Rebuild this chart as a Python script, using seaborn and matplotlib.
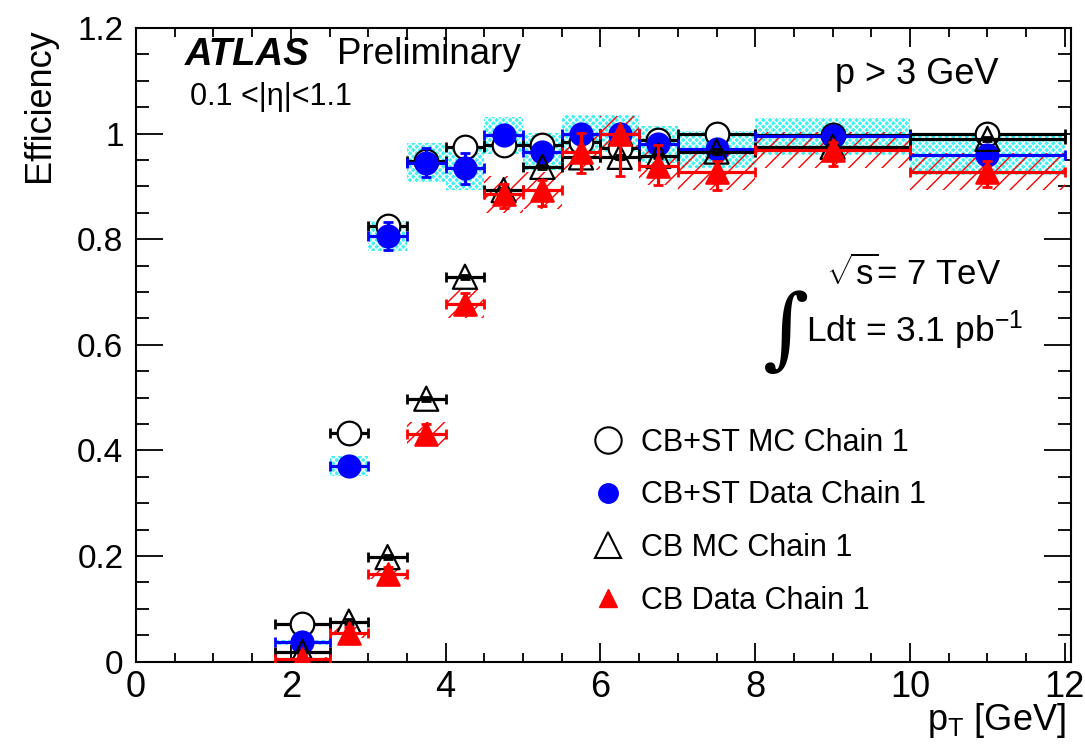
import numpy as np
import pandas as pd
import matplotlib
matplotlib.use("Agg")
import matplotlib.pyplot as plt
import seaborn as sns
from matplotlib.lines import Line2D
from matplotlib.ticker import MultipleLocator, FuncFormatter

# ---------------- data ----------------
pt = np.array([2.15, 2.75, 3.25, 3.75, 4.25, 4.75, 5.25, 5.75, 6.25, 6.75, 7.5, 9.0, 11.0])
pt_lo = np.array([1.8, 2.5, 3.0, 3.5, 4.0, 4.5, 5.0, 5.5, 6.0, 6.5, 7.0, 8.0, 10.0])
pt_hi = np.array([2.5, 3.0, 3.5, 4.0, 4.5, 5.0, 5.5, 6.0, 6.5, 7.0, 8.0, 10.0, 12.0])

eff_cbst_mc = np.array([0.071, 0.434, 0.825, 0.948, 0.975, 0.978, 0.978, 0.984, 0.972, 0.988, 1.000, 0.997, 1.000])
eff_cbst_data = np.array([0.037, 0.370, 0.806, 0.945, 0.934, 0.997, 0.966, 1.000, 1.000, 0.980, 0.970, 0.995, 0.959])
eff_cb_mc = np.array([0.018, 0.076, 0.198, 0.498, 0.729, 0.893, 0.937, 0.955, 0.956, 0.958, 0.966, 0.975, 0.990])
eff_cb_data = np.array([0.005, 0.055, 0.167, 0.432, 0.678, 0.885, 0.893, 0.966, 0.999, 0.938, 0.928, 0.969, 0.928])

stat_cbst_mc = np.array([0.004] * 13)
stat_cb_mc = np.array([0.004] * 13)
stat_cbst_data_lo = np.array([0.005, 0.010, 0.027, 0.028, 0.030, 0.015, 0.015, 0.010, 0.008, 0.012, 0.012, 0.008, 0.015])
stat_cbst_data_hi = np.array([0.005, 0.010, 0.027, 0.028, 0.030, 0.003, 0.012, 0.002, 0.002, 0.010, 0.010, 0.005, 0.015])
stat_cb_data_lo = np.array([0.005, 0.010, 0.012, 0.018, 0.020, 0.025, 0.030, 0.040, 0.080, 0.035, 0.035, 0.030, 0.030])
stat_cb_data_hi = np.array([0.005, 0.010, 0.012, 0.018, 0.020, 0.020, 0.020, 0.035, 0.003, 0.040, 0.020, 0.015, 0.020])

syst_cbst_data = np.array([0.005, 0.019, 0.028, 0.037, 0.040, 0.035, 0.035, 0.035, 0.035, 0.035, 0.035, 0.035, 0.038])
syst_cb_data = np.array([0.003, 0.010, 0.011, 0.022, 0.027, 0.035, 0.035, 0.035, 0.035, 0.035, 0.035, 0.035, 0.035])

labels = ["CB+ST MC Chain 1", "CB+ST Data Chain 1", "CB MC Chain 1", "CB Data Chain 1"]

# ---------------- style ----------------
sns.set_theme(style="ticks")
plt.rcParams["font.family"] = ["Liberation Sans", "DejaVu Sans"]
plt.rcParams["mathtext.fontset"] = "custom"
plt.rcParams["mathtext.rm"] = "Liberation Sans"
plt.rcParams["mathtext.it"] = "Liberation Sans:italic"
plt.rcParams["mathtext.bf"] = "Liberation Sans:bold"
plt.rcParams["hatch.linewidth"] = 1.0
plt.rcParams["axes.unicode_minus"] = False
for k in ["text.color", "axes.labelcolor", "xtick.color", "ytick.color", "axes.edgecolor"]:
    plt.rcParams[k] = "black"

W, H = 1085, 746
fig = plt.figure(figsize=(W / 100, H / 100), dpi=100)
fig.patch.set_facecolor("white")
ax = fig.add_axes([136 / W, 1 - 661.7 / H, (1071 - 136) / W, (661.7 - 28) / H])
ax.set_facecolor("white")

# ---------------- systematic bands ----------------
ax.bar(pt_lo, 2 * syst_cbst_data, bottom=eff_cbst_data - syst_cbst_data,
       width=pt_hi - pt_lo, align="edge", facecolor="#3ff2f2", edgecolor="white",
       hatch="xxxxx", linewidth=0, zorder=1)
ax.bar(pt_lo, 2 * syst_cb_data, bottom=eff_cb_data - syst_cb_data,
       width=pt_hi - pt_lo, align="edge", facecolor="none", edgecolor="#ff0000",
       hatch="//", linewidth=0, zorder=2)

# ---------------- points with error bars ----------------
series = [
    (eff_cbst_mc, stat_cbst_mc, stat_cbst_mc, "black", "o", "white", 290, 3),
    (eff_cbst_data, stat_cbst_data_lo, stat_cbst_data_hi, "#0000ff", "o", "#0000ff", 250, 4),
    (eff_cb_mc, stat_cb_mc, stat_cb_mc, "black", "^", "none", 300, 5),
    (eff_cb_data, stat_cb_data_lo, stat_cb_data_hi, "#ff0000", "^", "#ff0000", 260, 6),
]
for eff, elo, ehi, col, mk, face, size, z in series:
    ax.errorbar(pt, eff, xerr=[pt - pt_lo, pt_hi - pt], yerr=[elo, ehi], fmt="none",
                ecolor=col, elinewidth=2.3, capsize=3.6, capthick=2.0, zorder=z)
    sns.scatterplot(x=pt, y=eff, marker=mk, s=size, color=col, facecolor=face,
                    edgecolor=col, linewidth=1.6, ax=ax, zorder=z + 0.5, legend=False)

# ---------------- axes ----------------
ax.set_xlim(0, 12.08)
ax.set_ylim(0, 1.2)
ax.xaxis.set_major_locator(MultipleLocator(2))
ax.xaxis.set_minor_locator(MultipleLocator(0.5))
ax.yaxis.set_major_locator(MultipleLocator(0.2))
ax.yaxis.set_minor_locator(MultipleLocator(0.05))
ax.xaxis.set_major_formatter(FuncFormatter(lambda v, p: "%g" % v))
ax.yaxis.set_major_formatter(FuncFormatter(lambda v, p: "%g" % round(v, 2)))
ax.tick_params(axis="both", which="both", direction="in", top=True, right=True,
               color="black", width=1.3, labelcolor="black")
ax.tick_params(axis="x", which="major", length=13.7, labelsize=26, pad=6)
ax.tick_params(axis="x", which="minor", length=6.8)
ax.tick_params(axis="y", which="major", length=19.4, labelsize=24, pad=9)
ax.tick_params(axis="y", which="minor", length=9.4)
for s in ax.spines.values():
    s.set_linewidth(1.5)
    s.set_color("black")
    s.set_visible(True)
ax.set_xlabel("")
ax.set_ylabel("")

fig.text(40 / W, 1 - 28 / H, "Efficiency", rotation=90, ha="center", va="top", fontsize=26)
fig.text(1066 / W, 1 - 721 / H, r"p$_{\mathrm{T}}$ [GeV]", ha="right", va="center", fontsize=26)

# ---------------- annotations ----------------
fig.text(185 / W, 1 - 55 / H, "ATLAS", fontsize=27.5, fontweight="bold", fontstyle="italic",
         ha="left", va="center")
fig.text(337 / W, 1 - 55 / H, "Preliminary", fontsize=26.5, ha="left", va="center")
fig.text(190 / W, 1 - 97 / H, "0.1 <|η|<1.1", fontsize=22, ha="left", va="center")
fig.text(835 / W, 1 - 75 / H, "p > 3 GeV", fontsize=26, ha="left", va="center")
fig.text(826 / W, 1 - 274 / H, r"$\sqrt{\mathrm{s}}$= 7 TeV", fontsize=25, ha="left", va="center")
fig.text(806 / W, 1 - 330 / H, r"Ldt = 3.1 pb$^{\mathrm{-1}}$", fontsize=25.5, ha="left", va="center")
fig.text(786 / W, 1 - 333 / H, "∫", fontsize=64, ha="center", va="center", family="DejaVu Serif")

# ---------------- legend ----------------
handles = [
    Line2D([], [], ls="none", marker="o", markersize=19, mfc="white", mec="black", mew=1.5),
    Line2D([], [], ls="none", marker="o", markersize=14, mfc="#0000ff", mec="#0000ff", mew=1),
    Line2D([], [], ls="none", marker="^", markersize=19, mfc="none", mec="black", mew=1.5),
    Line2D([], [], ls="none", marker="^", markersize=13, mfc="#ff0000", mec="#ff0000", mew=1),
]
leg = ax.legend(handles, labels, loc="upper left", bbox_to_anchor=(0.489, 0.369),
                frameon=False, fontsize=22, handlelength=1.0, handletextpad=0.55,
                labelspacing=0.74, borderpad=0, borderaxespad=0, labelcolor="black")

fig.savefig("out.png", dpi=100, facecolor="white")
